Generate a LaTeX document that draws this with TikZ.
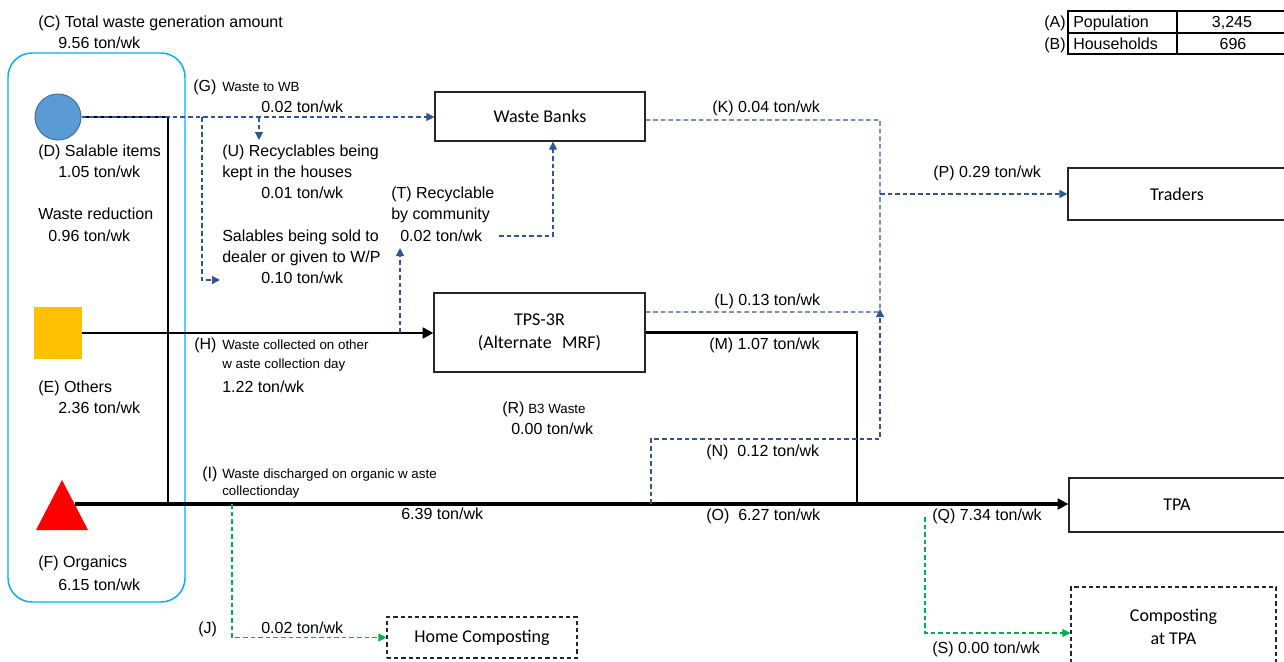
\documentclass[tikz,border=0pt]{standalone}
\usepackage{fontspec}
\setmainfont{Liberation Sans}
\newfontfamily\carlito{Carlito}
\usetikzlibrary{arrows.meta}
\definecolor{dblue}{RGB}{47,85,151}
\definecolor{dgreen}{RGB}{0,176,80}
\definecolor{cyanb}{RGB}{0,176,240}
\definecolor{cfill}{RGB}{91,155,213}
\definecolor{cdraw}{RGB}{65,113,156}
\definecolor{orng}{RGB}{255,192,0}
\begin{document}
\begin{tikzpicture}[x=0.75pt,y=-0.75pt,
  lbl/.style={anchor=base west, inner sep=0pt, font=\fontsize{12}{14}\selectfont},
  sml/.style={anchor=base west, inner sep=0pt, font=\fontsize{10}{12}\selectfont},
  pbox/.style={draw=black!85, line width=0.9pt, font=\carlito\fontsize{13.5}{17}\selectfont, align=center, inner sep=0pt},
  dbox/.style={pbox, dash pattern=on 3.2pt off 2.2pt},
  bflow/.style={draw=dblue, line width=0.9pt, dash pattern=on 3.5pt off 2.2pt},
  gflow/.style={draw=dgreen, line width=0.9pt, dash pattern=on 3.5pt off 2.2pt},
  btip/.style={-{Triangle[length=6pt,width=6pt]}},
  ktip/.style={-{Triangle[length=8pt,width=8pt]}},
]
\path[use as bounding box] (0,0) rectangle (1284,661);
\clip (0,0) rectangle (1284,661);

% source group
\draw[cyanb, line width=1.1pt, rounded corners=18pt] (8,53) rectangle (185,602);
\node[circle, fill=cfill, draw=cdraw, line width=0.75pt, minimum size=34.5pt, inner sep=0pt] (circ) at (58,117) {};
\node[fill=orng, minimum width=36pt, minimum height=39pt, inner sep=0pt] (sq) at (58,333) {};
\fill[red] (62,480) -- (88,530) -- (36,530) -- cycle;
\coordinate (tri) at (74.5,504);

% boxes
\node[pbox, minimum width=157.5pt, minimum height=36.75pt] (wb) at (540,116.5) {Waste Banks};
\node[pbox, minimum width=158.25pt, minimum height=59.25pt] (tps) at (539.5,332.5) {TPS-3R\\(Alternate\hspace{0.35em} MRF)};
\node[pbox, minimum width=163.5pt, minimum height=39pt] (tr) at (1177,194) {Traders};
\node[pbox, minimum width=162pt, minimum height=40.5pt] (tpa) at (1177,505) {TPA};
\node[dbox, minimum width=142.5pt, minimum height=30.75pt] (home) at (482,637.5) {Home Composting};
\node[dbox, minimum width=153.75pt, minimum height=60pt] (ctpa) at (1173.5,627) {Composting\\at TPA};

% table
\draw[line width=1.1pt] (1068,11) rectangle (1292,54);
\draw[line width=1.1pt] (1068,33) -- (1292,33);
\draw[line width=1.1pt] (1177,11) -- (1177,54);
\node[lbl] (tA) at (1044,27) {(A)};
\node[lbl] (tB) at (1044,49) {(B)};
\node[lbl] (tpop) at (1073,27) {Population};
\node[lbl] (thh) at (1073,49) {Households};
\node[lbl, anchor=base] (tpopv) at (1232,27) {3,245};
\node[lbl, anchor=base] (thhv) at (1233,49) {696};

% black flows
\draw[line width=1.6pt] (circ.east) -- (168,117) -- (168,504);
\draw[line width=2pt, ktip] (sq.east) -- (sq.east -| tps.west);
\draw[line width=2.3pt, ktip] (tri) -- (tri -| tpa.west);
\draw[line width=1.6pt] (tps.east) -- (857,332.5) -- (857,504);

% blue flows
\draw[bflow, btip] (circ.east) -- (circ.east -| wb.west);
\draw[bflow, btip] (202,117) -- (202,280) -- (220,280);
\draw[bflow, btip] (259,117) -- (259,140);
\draw[bflow, btip] (400,333) -- (400,248);
\coordinate (t3) at (553,236);
\draw[bflow, btip] (499,236) -- (t3) -- (t3 |- wb.south);
\draw[bflow] ([yshift=-2.6pt]wb.east) -- (880,120) -- (880,312);
\draw[bflow] ([yshift=15.4pt]tps.east) -- (880,312);
\coordinate (p1) at (880,194);
\draw[bflow, btip] (p1) -- (p1 -| tr.west);
\draw[bflow, btip] (651,504) -- (651,439) -- (880,439) -- (880,309);

% green flows
\coordinate (j1) at (232,637.5);
\draw[gflow, btip] (232,504) -- (j1) -- (j1 -| home.west);
\coordinate (s1) at (925,633);
\draw[gflow, btip] (925,517) -- (s1) -- (s1 -| ctpa.west);

% labels
\node[lbl] (tC) at (38,27) {(C) Total waste generation amount};
\node[lbl] (tC2) at (58,48) {9.56 ton/wk};
\node[lbl] (tD) at (38,156) {(D) Salable items};
\node[lbl] (tD2) at (58,177) {1.05 ton/wk};
\node[lbl] (tWR) at (38,219) {Waste reduction};
\node[lbl] (tWR2) at (48,241) {0.96 ton/wk};
\node[lbl] (tE) at (38,392) {(E) Others};
\node[lbl] (tE2) at (58,413) {2.36 ton/wk};
\node[lbl] (tF) at (38,567) {(F) Organics};
\node[lbl] (tF2) at (58,590) {6.15 ton/wk};
\node[lbl] (tG) at (193,91) {(G)};
\node[sml] (tG1) at (222,91) {Waste to WB};
\node[lbl] (tG2) at (261,112) {0.02 ton/wk};
\node[lbl] (tU) at (222,156) {(U) Recyclables being};
\node[lbl] (tU1) at (222,177) {kept in the houses};
\node[lbl] (tU2) at (261,198) {0.01 ton/wk};
\node[lbl] (tS1) at (222,241) {Salables being sold to};
\node[lbl] (tS2) at (222,262) {dealer or given to W/P};
\node[lbl] (tS3) at (261,283) {0.10 ton/wk};
\node[lbl] (tT) at (391,198) {(T) Recyclable};
\node[lbl] (tT1) at (391,219) {by community};
\node[lbl] (tT2) at (400,241) {0.02 ton/wk};
\node[lbl] (tK) at (712,112) {(K) 0.04 ton/wk};
\node[lbl] (tP) at (933,177) {(P) 0.29 ton/wk};
\node[lbl] (tL) at (714,305) {(L) 0.13 ton/wk};
\node[lbl] (tM) at (709,349) {(M) 1.07 ton/wk};
\node[lbl] (tH) at (194,349) {(H)};
\node[sml] (tH1) at (222,349) {Waste collected on other};
\node[sml] (tH2) at (222,368) {w aste collection day};
\node[lbl] (tH3) at (222,392) {1.22 ton/wk};
\node[lbl] (tR) at (502,413) {(R)};
\node[sml] (tR1) at (528,413) {B3 Waste};
\node[lbl] (tR2) at (511,434) {0.00 ton/wk};
\node[lbl] (tN) at (706,456) {(N)\ \ 0.12 ton/wk};
\node[lbl] (tI) at (202,478) {(I)};
\node[sml] (tI1) at (222,478) {Waste discharged on organic w aste};
\node[sml] (tI2) at (222,495) {collectionday};
\node[lbl] (t639) at (401,519) {6.39 ton/wk};
\node[lbl] (tO) at (706,520) {(O)\ \ 6.27 ton/wk};
\node[lbl] (tQ) at (932,520) {(Q) 7.34 ton/wk};
\node[lbl] (tJ) at (198,633) {(J)};
\node[lbl] (tJ2) at (261,633) {0.02 ton/wk};
\node[lbl] (tSS) at (932,653) {(S) 0.00 ton/wk};
\end{tikzpicture}
\end{document}
